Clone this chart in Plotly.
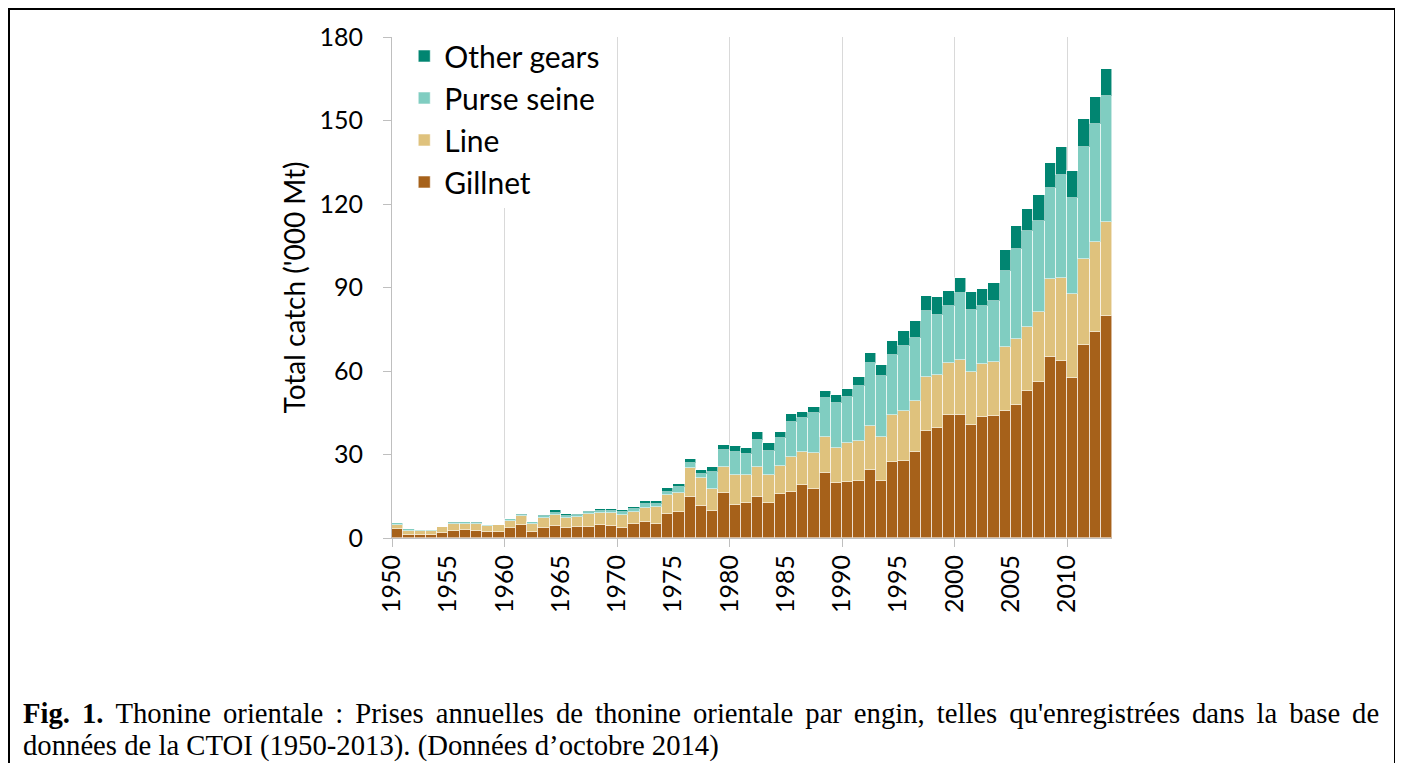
import plotly.graph_objects as go

years = list(range(1950, 2014))

gillnet = [3.1, 1.0, 1.0, 1.0, 1.8, 2.5, 2.9, 2.5, 2.3, 2.3,
           3.5, 4.6, 2.3, 3.5, 4.4, 3.7, 4.0, 4.1, 4.6, 4.4,
           3.7, 5.0, 5.7, 5.0, 8.7, 9.2, 14.9, 11.6, 9.8, 16.0,
           12.0, 12.5, 14.9, 12.7, 15.8, 16.6, 19.0, 17.7, 23.5, 19.6,
           20.3, 20.6, 24.4, 20.5, 27.3, 27.8, 31.0, 38.3, 39.6, 44.2,
           44.2, 40.5, 43.4, 43.7, 45.5, 47.7, 52.9, 56.2, 65.1, 63.5,
           57.6, 69.5, 74.1, 79.9]

line = [1.7, 1.5, 1.6, 1.6, 2.1, 2.4, 2.3, 2.4, 2.1, 2.2,
        2.7, 3.2, 2.7, 3.6, 3.7, 3.6, 3.7, 4.6, 4.3, 4.5,
        4.6, 4.5, 5.2, 6.0, 6.7, 7.0, 10.4, 10.1, 7.9, 9.6,
        10.5, 10.0, 10.5, 9.8, 10.2, 12.5, 11.8, 12.7, 12.8, 12.7,
        14.0, 14.4, 15.7, 15.7, 16.8, 17.7, 18.2, 19.4, 19.0, 18.6,
        19.9, 19.3, 19.2, 19.5, 23.0, 23.8, 22.9, 24.9, 28.1, 29.9,
        29.9, 30.9, 32.2, 33.6]

purse_seine = [0.5, 0.7, 0.3, 0.3, 0.1, 0.5, 0.5, 0.5, 0.2, 0.2,
               0.6, 0.6, 0.6, 0.7, 1.0, 0.5, 0.4, 0.5, 0.7, 0.8,
               1.1, 1.0, 1.3, 1.2, 1.1, 2.1, 1.5, 1.4, 6.1, 5.9,
               8.5, 7.7, 9.9, 8.9, 9.9, 12.5, 12.2, 14.5, 14.0, 16.3,
               16.3, 19.7, 22.6, 22.1, 21.5, 23.5, 22.7, 23.9, 21.5, 20.6,
               23.8, 22.1, 20.8, 22.1, 27.5, 32.3, 34.6, 32.8, 32.4, 37.1,
               34.8, 40.2, 42.6, 45.3]

other_gears = [0.2, 0.2, 0.1, 0.1, 0.1, 0.2, 0.2, 0.2, 0.1, 0.1,
               0.2, 0.2, 0.2, 0.3, 0.9, 0.7, 0.4, 0.4, 0.8, 0.7,
               0.6, 0.8, 1.0, 1.1, 1.6, 1.1, 1.5, 1.3, 1.6, 2.0,
               2.2, 2.0, 2.7, 2.6, 2.3, 3.0, 2.3, 2.0, 2.4, 2.7,
               3.0, 3.1, 3.8, 4.0, 5.2, 5.3, 6.2, 5.2, 6.5, 5.3,
               5.6, 6.5, 6.2, 6.2, 7.5, 8.4, 7.8, 9.3, 9.0, 10.0,
               9.7, 9.8, 9.7, 9.7]

series_names = ["Gillnet", "Line", "Purse seine", "Other gears"]
series_values = [gillnet, line, purse_seine, other_gears]
series_colors = ["#a6611a", "#dfc27d", "#80cdc1", "#018571"]

y_ticks = [0, 30, 60, 90, 120, 150, 180]
x_label_ticks = list(range(1950, 2011, 5))
x_major_ticks = list(range(1950, 2011, 10))

caption_1_words = ["<b>Fig.", "1.</b>", "Thonine", "orientale", ":", "Prises", "annuelles", "de",
                   "thonine", "orientale", "par", "engin,", "telles", "qu'enregistrées", "dans",
                   "la", "base", "de"]
caption_2 = "données de la CTOI (1950-2013). (Données d’octobre 2014)"
caption_1 = (" \u2006").join(caption_1_words)

FONT = "Lato"
W, H = 1395, 755
L, R, T, B = 384, 291, 29, 225
PW, PH = W - L - R, H - T - B


def px(xf):
    return (xf - L) / PW


def py(yf):
    return (H - B - yf) / PH


fig = go.Figure()
for name, vals, col in zip(series_names, series_values, series_colors):
    fig.add_trace(go.Bar(
        x=years, y=vals, name=name, offset=0, width=1,
        marker=dict(color=col, line=dict(color="rgba(255,255,255,0.55)", width=1)),
    ))

# helper axis for 10-year ticks and gridlines
fig.add_trace(go.Scatter(x=[1950, 2014], y=[None, None], xaxis="x2", showlegend=False,
                         hoverinfo="skip", mode="lines"))

fig.update_layout(
    width=W, height=H,
    margin=dict(l=L, r=R, t=T, b=B),
    paper_bgcolor="white", plot_bgcolor="white",
    barmode="stack", bargap=0,
    font=dict(family=FONT, color="#000000"),
    xaxis=dict(range=[1950, 2014], tickvals=x_label_ticks, ticktext=[str(v) for v in x_label_ticks],
               tickangle=-90, ticks="", showgrid=False, showline=True, linecolor="#bfbfbf",
               linewidth=1, tickfont=dict(size=25, family=FONT), zeroline=False,
               ticklabelstandoff=6),
    xaxis2=dict(range=[1950, 2014], overlaying="x", anchor="y", side="bottom",
                tickvals=x_major_ticks, showticklabels=False, ticks="outside", ticklen=8,
                tickcolor="#bfbfbf", showgrid=True, gridcolor="#d9d9d9", gridwidth=1,
                showline=False, zeroline=False),
    yaxis=dict(range=[0, 180], tickvals=y_ticks, ticks="outside", ticklen=8, tickcolor="#bfbfbf",
               showgrid=False, showline=True, linecolor="#bfbfbf", linewidth=1, zeroline=False,
               tickfont=dict(size=25, family=FONT), ticklabelstandoff=15,
               title=dict(text="Total catch ('000 Mt)", font=dict(size=28, family=FONT), standoff=5)),
    legend=dict(x=0.017, y=1.014, xanchor="left", yanchor="top", bgcolor="white",
                traceorder="reversed",
                font=dict(size=30, family=FONT, color="#000000")),
    showlegend=True,
)

# frame
fig.add_shape(type="rect", xref="paper", yref="paper",
              x0=px(1), x1=px(1387), y0=py(770), y1=py(1),
              line=dict(color="black", width=2), fillcolor="rgba(0,0,0,0)", layer="below")

fig.add_annotation(text=caption_1, xref="paper", yref="paper",
                   x=px(13), y=py(705), xanchor="left", yanchor="middle",
                   showarrow=False, font=dict(family="Liberation Serif", size=28.7, color="black"))
fig.add_annotation(text=caption_2, xref="paper", yref="paper",
                   x=px(13), y=py(737), xanchor="left", yanchor="middle",
                   showarrow=False, font=dict(family="Liberation Serif", size=28.7, color="black"))

fig.write_html("out.html")
